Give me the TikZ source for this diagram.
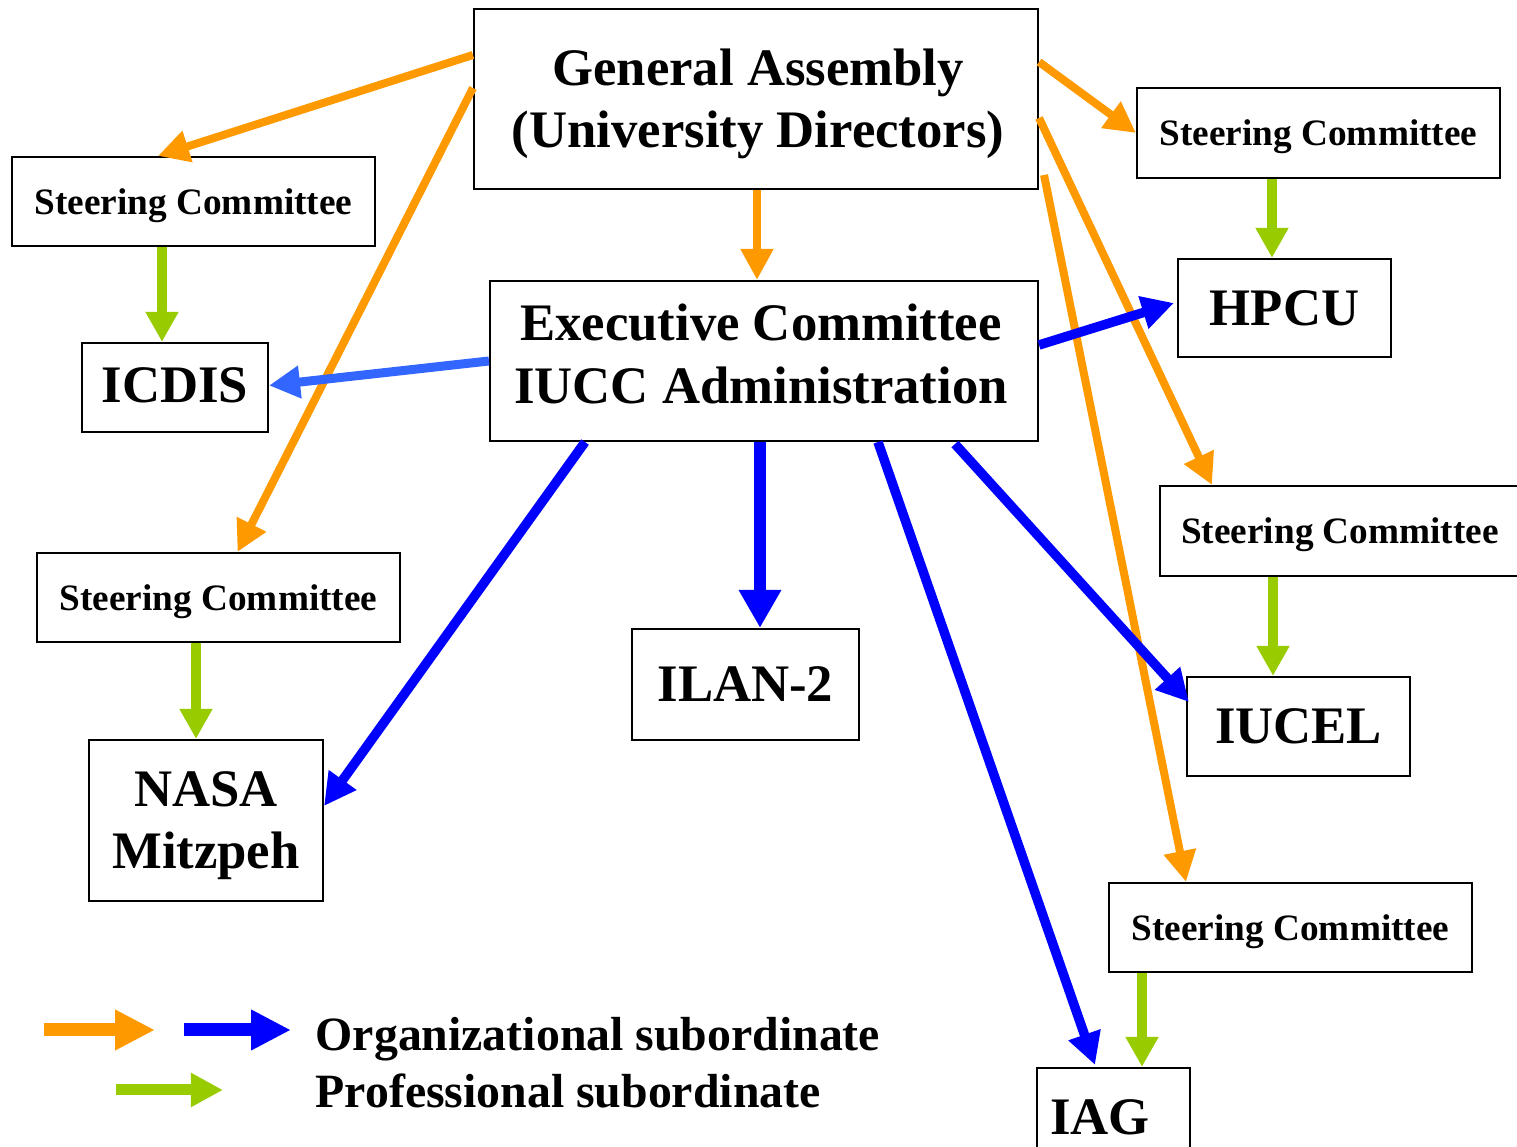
\documentclass[tikz,border=0pt]{standalone}
\usepackage{fontspec}
\setmainfont{Liberation Serif}
\usetikzlibrary{arrows.meta,calc}
\definecolor{orgc}{HTML}{FF9900}
\definecolor{blc}{HTML}{0000FF}
\definecolor{lbc}{HTML}{3366FF}
\definecolor{grc}{HTML}{99CC00}
\tikzset{
  box/.style={draw=black, line width=0.6pt, inner sep=0pt, fill=white},
  scbox/.style={box, minimum width=3.63cm, minimum height=0.89cm, text depth=0pt,
    font=\fontsize{10.6}{12}\selectfont\bfseries},
  bigbox/.style={box, font=\fontsize{15}{17.8}\selectfont\bfseries},
  bigtext/.style={inner sep=0pt, align=center, font=\fontsize{15}{17.8}\selectfont\bfseries},
  orgarrow/.style={draw=orgc, line width=0.08cm, -{Triangle[length=0.31cm,width=0.31cm]}},
  bluearrow/.style={draw=blc, line width=0.095cm, -{Triangle[length=0.32cm,width=0.32cm]}},
  lbluearrow/.style={draw=lbc, line width=0.09cm, -{Triangle[length=0.31cm,width=0.31cm]}},
  proarrow/.style={draw=grc, line width=0.10cm, -{Triangle[length=0.30cm,width=0.31cm]}},
  legtext/.style={anchor=base west, inner sep=0pt, font=\fontsize{13.6}{16}\selectfont\bfseries}
}
\begin{document}
\begin{tikzpicture}
\useasboundingbox (0,0) rectangle (15.17,-11.47);
% boxes
\node[box, minimum width=5.64cm, minimum height=1.80cm] (ga) at (7.56,-0.99) {};
\node[bigtext] (gatext) at ([xshift=0.02cm,yshift=-0.05cm]ga.center) {General Assembly\\(University Directors)};
\node[box, minimum width=5.48cm, minimum height=1.60cm] (exec) at (7.64,-3.61) {};
\node[bigtext] (exectext) at ([xshift=-0.03cm,yshift=0.07cm]exec.center) {Executive Committee\\IUCC Administration};
\node[scbox] (sc1) at (1.935,-2.015) {Steering Committee};
\node[bigbox, minimum width=1.86cm, minimum height=0.89cm] (icdis) at (1.75,-3.875) {\raisebox{0.04cm}{ICDIS}};
\node[scbox, minimum height=0.90cm] (sc3) at (13.185,-1.33) {Steering Committee};
\node[bigbox, minimum width=2.13cm, minimum height=0.98cm] (hpcu) at (12.845,-3.08) {\raisebox{-0.02cm}{HPCU}};
\node[scbox] (sc2) at (2.185,-5.975) {Steering Committee};
\node[box, minimum width=2.34cm, minimum height=1.61cm] (nasa) at (2.06,-8.205) {};
\node[bigtext] (nasatext) at ([yshift=-0.05cm]nasa.center) {NASA\\Mitzpeh};
\node[bigbox, minimum width=2.27cm, minimum height=1.11cm] (ilan) at (7.455,-6.845) {\raisebox{-0.02cm}{ILAN-2}};
\node[scbox, minimum width=3.60cm, minimum height=0.90cm] (sc4) at (13.40,-5.31) {Steering Committee};
\node[bigbox, minimum width=2.23cm, minimum height=0.99cm] (iucel) at (12.985,-7.265) {IUCEL};
\node[scbox] (sc5) at (12.905,-9.275) {Steering Committee};
\node[bigbox, text width=1.27cm, inner xsep=0.13cm, minimum height=0.99cm, align=left] (iag) at (11.135,-11.175) {IAG};
% organizational (orange) arrows
\draw[orgarrow] ([yshift=0.44cm]ga.west) -- ([xshift=-0.355cm]sc1.north);
\draw[orgarrow] ([yshift=0.11cm]ga.west) -- ([xshift=0.19cm]sc2.north);
\coordinate (o3) at ([xshift=0.01cm]ga.south);
\draw[orgarrow] (o3) -- (o3 |- exec.north);
\draw[orgarrow] ([yshift=0.37cm]ga.east) -- (sc3.west);
\draw[orgarrow] ([yshift=-0.19cm]ga.east) -- ([xshift=-1.28cm]sc4.north);
\draw[orgarrow] ([xshift=0.05cm,yshift=-0.76cm]ga.east) -- ([xshift=-1.045cm]sc5.north);
% professional (green) arrows
\coordinate (g1) at ([xshift=-0.315cm]sc1.south);
\draw[proarrow] (g1) -- (g1 |- icdis.north);
\coordinate (g2) at ([xshift=-0.465cm]sc3.south);
\draw[proarrow] (g2) -- (g2 |- hpcu.north);
\coordinate (g3) at ([xshift=-0.225cm]sc2.south);
\draw[proarrow] (g3) -- (g3 |- nasa.north);
\coordinate (g4) at ([xshift=-0.67cm]sc4.south);
\draw[proarrow] (g4) -- (g4 |- iucel.north);
\coordinate (g5) at ([xshift=-1.485cm]sc5.south);
\draw[proarrow] (g5) -- (g5 |- iag.north);
% organizational (blue) arrows
\draw[lbluearrow] (exec.west) -- ([yshift=0.02cm]icdis.east);
\draw[bluearrow] ([yshift=0.16cm]exec.east) -- ([xshift=-0.03cm,yshift=0.05cm]hpcu.west);
\draw[bluearrow] ([xshift=-1.79cm]exec.south) -- ([yshift=0.145cm]nasa.east);
\coordinate (b4) at ([xshift=-0.04cm]exec.south);
\draw[bluearrow, line width=0.12cm, -{Triangle[length=0.38cm,width=0.40cm]}] (b4) -- (b4 |- ilan.north);
\draw[bluearrow] ([xshift=1.14cm]exec.south) -- ([xshift=-0.185cm,yshift=0.02cm]iag.north);
\draw[bluearrow] ([xshift=1.91cm,yshift=-0.02cm]exec.south) -- ([xshift=0.03cm,yshift=0.245cm]iucel.west);
% legend
\coordinate (lo1) at (0.44,-10.30);
\coordinate (lo2) at (1.55,-10.30);
\coordinate (lb1) at (1.84,-10.30);
\coordinate (lb2) at (2.91,-10.30);
\coordinate (lg1) at (1.16,-10.90);
\coordinate (lg2) at (2.23,-10.90);
\draw[draw=orgc, line width=0.13cm, -{Triangle[length=0.40cm,width=0.38cm]}] (lo1) -- (lo2);
\draw[draw=blc, line width=0.13cm, -{Triangle[length=0.40cm,width=0.38cm]}] (lb1) -- (lb2);
\draw[draw=grc, line width=0.11cm, -{Triangle[length=0.32cm,width=0.32cm]}] (lg1) -- (lg2);
\node[legtext] (leg1) at (3.15,-10.51) {Organizational subordinate};
\node[legtext] (leg2) at (3.15,-11.08) {Professional subordinate};
\end{tikzpicture}
\end{document}
